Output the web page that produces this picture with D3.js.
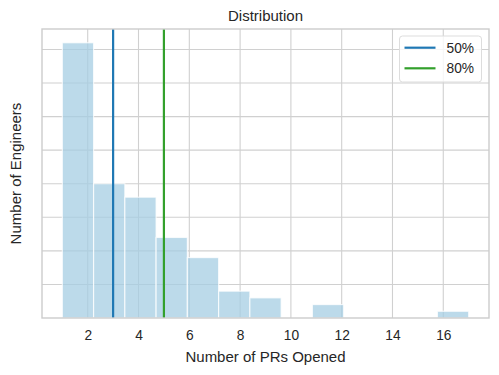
<!DOCTYPE html>
<html>
<head>
<meta charset="utf-8">
<script src="https://cdn.jsdelivr.net/npm/d3@7"></script>
<style>
  html, body { margin: 0; padding: 0; background: #fff; }
  svg { display: block; font-family: Arial, "Liberation Sans", sans-serif; }
</style>
</head>
<body>
<svg id="chart" width="499" height="375"></svg>
<script>
'use strict';

// ── Data ─────────────────────────────────────────────────────
const BIN_START  = 1;
const BIN_END    = 17;
const binCounts  = [41, 20, 18, 12, 9, 4, 3, 0, 2, 0, 0, 0, 1];
const xTicks     = [2, 4, 6, 8, 10, 12, 14, 16];
const yGrid      = [5, 10, 15, 20, 25, 30, 35, 40];
const percentiles = [
  { label: '50%', value: 3, color: '#1f78b4' },
  { label: '80%', value: 5, color: '#33a02c' },
];

const W = 499, H = 375;
const M = { top: 29, right: 10, bottom: 57, left: 42 };
const iw = W - M.left - M.right;
const ih = H - M.top - M.bottom;

const binW = (BIN_END - BIN_START) / binCounts.length;
const bins = binCounts.map((c, i) => ({
  x0: BIN_START + i * binW,
  x1: BIN_START + (i + 1) * binW,
  count: c,
}));

// matplotlib-style 5% margins
const xPad = (BIN_END - BIN_START) * 0.05;
const x = d3.scaleLinear()
  .domain([BIN_START - xPad, BIN_END + xPad])
  .range([0, iw]);
const y = d3.scaleLinear()
  .domain([0, d3.max(binCounts) * 1.05])
  .range([ih, 0]);

const svg = d3.select('#chart');
const g = svg.append('g').attr('transform', `translate(${M.left},${M.top})`);

// ── Grid ─────────────────────────────────────────────────────
const GRID = '#d0d0d0';
g.append('g').selectAll('line').data(xTicks).join('line')
  .attr('x1', d => x(d)).attr('x2', d => x(d))
  .attr('y1', 0).attr('y2', ih)
  .attr('stroke', GRID).attr('stroke-width', 1.1);

g.append('g').selectAll('line').data(yGrid).join('line')
  .attr('x1', 0).attr('x2', iw)
  .attr('y1', d => y(d)).attr('y2', d => y(d))
  .attr('stroke', GRID).attr('stroke-width', 1.1);

// ── Bars ─────────────────────────────────────────────────────
g.append('g').selectAll('rect').data(bins.filter(b => b.count > 0)).join('rect')
  .attr('x', d => x(d.x0))
  .attr('y', d => y(d.count))
  .attr('width', d => x(d.x1) - x(d.x0))
  .attr('height', d => y(0) - y(d.count))
  .attr('fill', '#a6cee3')
  .attr('fill-opacity', 0.75)
  .attr('stroke', '#ffffff')
  .attr('stroke-opacity', 0.75)
  .attr('stroke-width', 1.2);

// ── Percentile lines ─────────────────────────────────────────
g.append('g').selectAll('line').data(percentiles).join('line')
  .attr('x1', d => x(d.value)).attr('x2', d => x(d.value))
  .attr('y1', 0).attr('y2', ih)
  .attr('stroke', d => d.color)
  .attr('stroke-width', 2.2);

// ── Frame ────────────────────────────────────────────────────
g.append('rect')
  .attr('x', 0).attr('y', 0)
  .attr('width', iw).attr('height', ih)
  .attr('fill', 'none')
  .attr('stroke', '#cccccc')
  .attr('stroke-width', 1.4);

// ── Axes text ────────────────────────────────────────────────
const xAxis = d3.axisBottom(x).tickValues(xTicks).tickSize(0).tickPadding(12);
g.append('g')
  .attr('transform', `translate(0,${ih})`)
  .call(xAxis)
  .call(s => s.select('.domain').remove())
  .call(s => s.selectAll('text')
    .attr('font-size', 13.75)
    .attr('fill', '#262626')
    .attr('font-family', 'Arial, "Liberation Sans", sans-serif'));

svg.append('text')
  .attr('x', M.left + iw / 2).attr('y', 361.5)
  .attr('text-anchor', 'middle')
  .attr('font-size', 15)
  .attr('fill', '#262626')
  .text('Number of PRs Opened');

svg.append('text')
  .attr('transform', `translate(21,${M.top + ih / 2}) rotate(-90)`)
  .attr('text-anchor', 'middle')
  .attr('font-size', 15)
  .attr('fill', '#262626')
  .text('Number of Engineers');

svg.append('text')
  .attr('x', M.left + iw / 2).attr('y', 21)
  .attr('text-anchor', 'middle')
  .attr('font-size', 15)
  .attr('fill', '#262626')
  .text('Distribution');

// ── Legend ───────────────────────────────────────────────────
const leg = svg.append('g').attr('transform', 'translate(399.5,36)');
leg.append('rect')
  .attr('width', 82).attr('height', 46)
  .attr('rx', 3)
  .attr('fill', '#ffffff').attr('fill-opacity', 0.8)
  .attr('stroke', '#dddddd').attr('stroke-width', 1);

const items = leg.selectAll('g').data(percentiles).join('g')
  .attr('transform', (d, i) => `translate(0,${11.7 + i * 20.6})`);
items.append('line')
  .attr('x1', 5).attr('x2', 36)
  .attr('stroke', d => d.color).attr('stroke-width', 2.2);
items.append('text')
  .attr('x', 47).attr('y', 5)
  .attr('font-size', 13.75)
  .attr('fill', '#262626')
  .text(d => d.label);
</script>
</body>
</html>
